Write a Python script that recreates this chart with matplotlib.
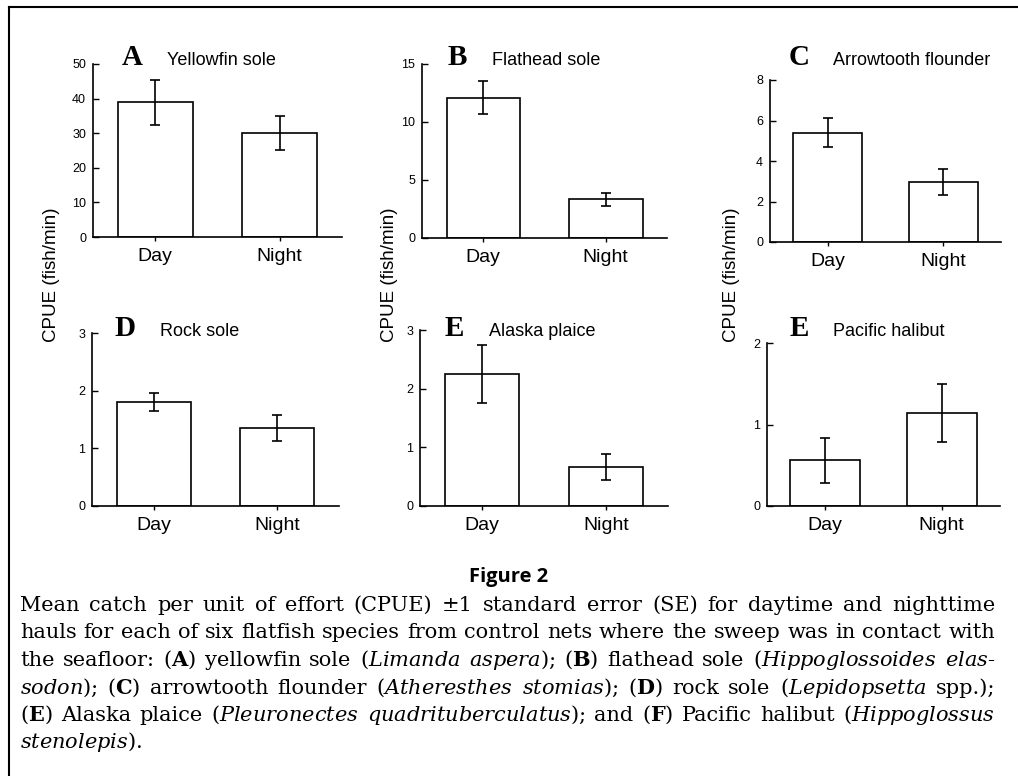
import numpy as np
import matplotlib
matplotlib.use("Agg")
import matplotlib.pyplot as plt

# CPUE (fish/min), day / night, with +-1 SE
species = ["Yellowfin sole", "Flathead sole", "Arrowtooth flounder",
           "Rock sole", "Alaska plaice", "Pacific halibut"]
letters = ["A", "B", "C", "D", "E", "E"]
day_mean = [38.9, 12.1, 5.4, 1.80, 2.25, 0.56]
day_se = [6.4, 1.45, 0.70, 0.16, 0.50, 0.28]
night_mean = [30.1, 3.35, 2.97, 1.35, 0.66, 1.14]
night_se = [4.85, 0.55, 0.65, 0.22, 0.22, 0.36]
yticks = [[0, 10, 20, 30, 40, 50], [0, 5, 10, 15], [0, 2, 4, 6, 8],
          [0, 1, 2, 3], [0, 1, 2, 3], [0, 1, 2]]
groups = ["Day", "Night"]

caption = [
    "Mean catch per unit of effort (CPUE) ±1 standard error (SE) for daytime and nighttime",
    "hauls for each of six flatfish species from control nets where the sweep was in contact with",
    r"the seafloor: ($\mathbf{A}$) yellowfin sole ($\mathit{Limanda}$ $\mathit{aspera}$); ($\mathbf{B}$) flathead sole ($\mathit{Hippoglossoides}$ $\mathit{elas}$-",
    r"$\mathit{sodon}$); ($\mathbf{C}$) arrowtooth flounder ($\mathit{Atheresthes}$ $\mathit{stomias}$); ($\mathbf{D}$) rock sole ($\mathit{Lepidopsetta}$ spp.);",
    r"($\mathbf{E}$) Alaska plaice ($\mathit{Pleuronectes}$ $\mathit{quadrituberculatus}$); and ($\mathbf{F}$) Pacific halibut ($\mathit{Hippoglossus}$",
    r"$\mathit{stenolepis}$).",
]

plt.rcParams['font.family'] = 'Liberation Sans'
plt.rcParams['mathtext.fontset'] = 'dejavuserif'

W, H = 1018, 776
fig = plt.figure(figsize=(W / 100, H / 100), dpi=100)

# panel boxes in pixels: left, right, top, bottom
boxes = [(93, 342, 64, 237), (422, 667, 64, 238), (770, 1001, 80, 242),
         (92, 339, 333, 506), (420, 668, 330, 506), (767, 1000, 343, 506)]
letter_pos = [(132, 65), (457, 65), (799, 65), (125, 336), (454, 336), (799, 336)]
name_pos = [(167, 65), (492, 65), (833, 65), (160, 336), (489, 336), (833, 336)]

def fx(px):
    return px / W

def fy(py):
    return 1 - py / H

x = np.arange(len(groups))
for i in range(6):
    l, r, t, b = boxes[i]
    ax = fig.add_axes([fx(l), fy(b), (r - l) / W, (b - t) / H])
    ax.bar(x, [day_mean[i], night_mean[i]], width=0.6, color='white',
           edgecolor='black', linewidth=1.2, zorder=2)
    ax.errorbar(x, [day_mean[i], night_mean[i]], yerr=[day_se[i], night_se[i]],
                fmt='none', ecolor='black', elinewidth=1.2, capsize=3.5,
                capthick=1.2, zorder=3)
    ax.set_xlim(-0.5, 1.5)
    ax.set_ylim(0, yticks[i][-1])
    ax.set_yticks(yticks[i])
    ax.set_xticks(x)
    ax.set_xticklabels(groups, fontsize=14)
    ax.tick_params(axis='y', direction='in', length=4, width=1, labelsize=9, pad=5)
    ax.tick_params(axis='x', direction='out', length=3, width=1, pad=5)
    for s in ['top', 'right']:
        ax.spines[s].set_visible(False)
    for s in ['left', 'bottom']:
        ax.spines[s].set_linewidth(1.2)
    fig.text(fx(letter_pos[i][0]), fy(letter_pos[i][1]), letters[i],
             family='Liberation Serif', weight='bold', fontsize=21,
             ha='center', va='baseline')
    fig.text(fx(name_pos[i][0]), fy(name_pos[i][1]), species[i],
             fontsize=13, ha='left', va='baseline')

for xl in [51, 390, 732]:
    fig.text(fx(xl), fy(275), "CPUE (fish/min)", rotation=90, fontsize=13.5,
             ha='center', va='center')

# frame lines (left and top)
fig.add_artist(plt.Line2D([fx(9), fx(9)], [0, fy(7)], color='black', lw=1.5))
fig.add_artist(plt.Line2D([fx(9), 1], [fy(7), fy(7)], color='black', lw=1.5))

fig.text(fx(509), fy(582), "Figure 2", family='Open Sans', weight='bold',
         fontsize=14.5, ha='center', va='baseline')

# justified caption, placed word by word
renderer = fig.canvas.get_renderer()
x0, x1 = 20, 995
base = 611
step = 27.5
for k, line in enumerate(caption):
    words = line.split(" ")
    texts = [fig.text(0, fy(base + step * k), w, family='DejaVu Serif',
                      fontsize=15, ha='left', va='baseline') for w in words]
    widths = [t.get_window_extent(renderer).width for t in texts]
    if k < len(caption) - 1:
        gap = (x1 - x0 - sum(widths)) / (len(words) - 1)
    else:
        gap = 6
    pos = x0
    for t, w in zip(texts, widths):
        t.set_x(fx(pos))
        pos += w + gap

fig.savefig("out.png", dpi=100)
